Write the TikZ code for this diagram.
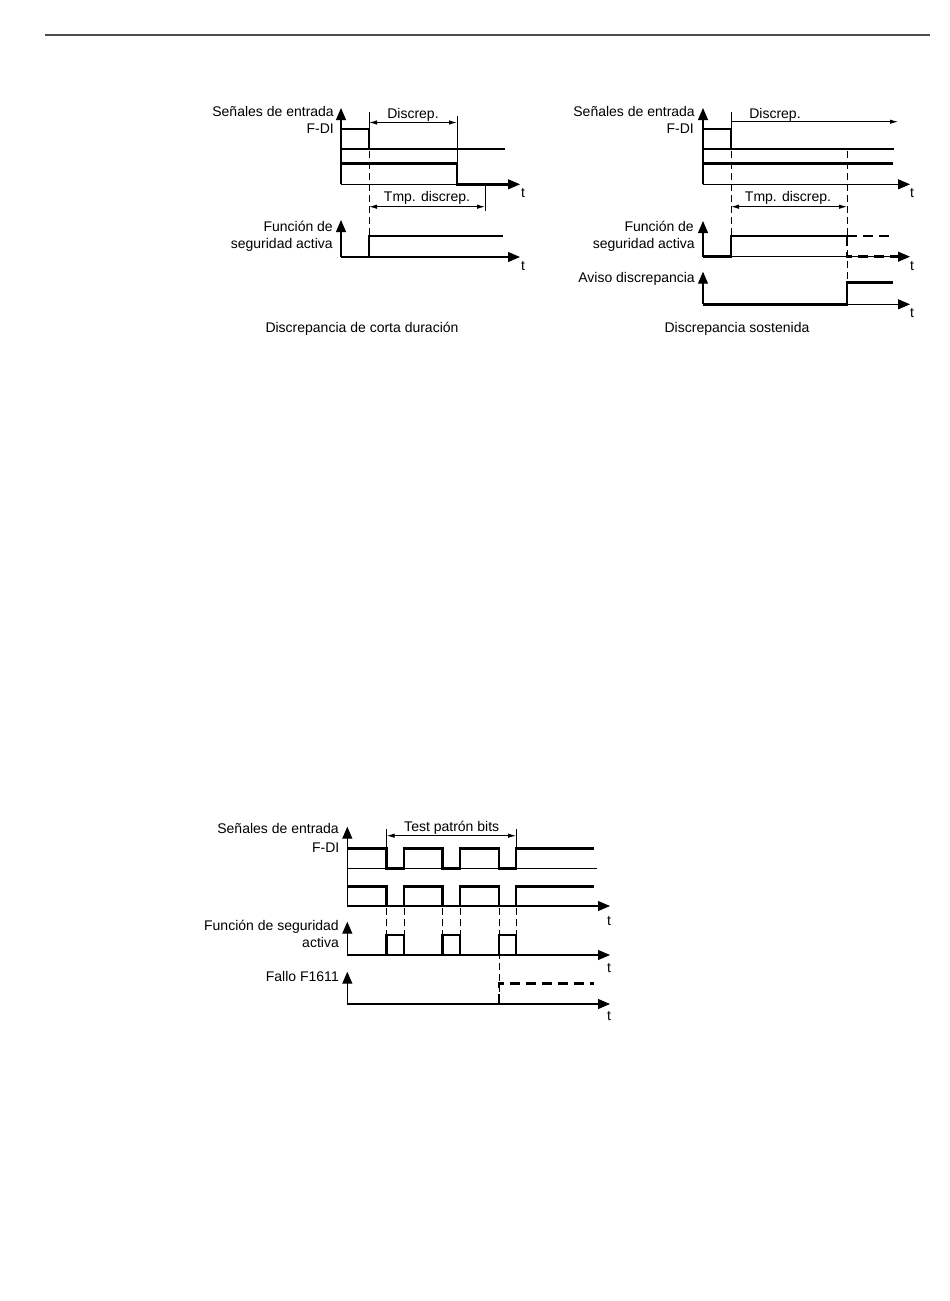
\documentclass[tikz,border=0pt]{standalone}
\usepackage{fontspec}
\setmainfont{Liberation Sans}
\usetikzlibrary{arrows.meta}
\tikzset{
  axisline/.style={line width=1.1pt},
  axisarr/.style={axisline,-{Triangle[length=12pt,width=10pt]}},
  sig/.style={line width=2.6pt},
  sigdash/.style={line width=2.6pt,dash pattern=on 10pt off 6pt},
  guide/.style={line width=0.9pt,dash pattern=on 7pt off 4pt},
  extline/.style={line width=0.9pt},
  dim/.style={line width=0.9pt,{Latex[length=8pt,width=4.5pt]}-{Latex[length=8pt,width=4.5pt]}},
  dimr/.style={line width=0.9pt,-{Latex[length=8pt,width=4.5pt]}},
  txt/.style={font=\fontsize{14}{16}\selectfont,inner sep=0pt},
  lbl/.style={txt,anchor=base east},
  ctr/.style={txt,anchor=base},
  tl/.style={txt,anchor=base}
}
\begin{document}
\begin{tikzpicture}[x=1pt,y=-1pt]
\useasboundingbox (0,0) rectangle (950,1301);
% top rule
\draw[line width=1.6pt,black!70] (45,34.7) -- (930,34.7);

% ================= top left =================
\node[lbl] (tlA) at (334,116.5) {Señales de entrada};
\node[lbl] (tlB) at (334,133.5) {F-DI};
\node[lbl] (tlC) at (333,231.5) {Función de};
\node[lbl] (tlD) at (333,248) {seguridad activa};
\draw[axisarr] (341,184.3) -- (341,108);
\draw[axisarr] (341,184.3) -- (520,184.3);
\draw[axisline] (341,149) -- (369,149);
\draw[sig] (341,129) -| (369,149) -- (505,149);
\draw[sig] (341,163.3) -| (457,184.3) -- (508,184.3);
\draw[extline] (369,112) -- (369,129);
\draw[guide] (369,151) -- (369,257);
\draw[extline] (457,116) -- (457,163.3);
\draw[dim] (369,122.5) -- (457,122.5);
\node[ctr] (tlDisc) at (413,118.5) {Discrep.};
\draw[extline] (485,184.3) -- (485,211);
\draw[dim] (369,206.7) -- (485,206.7);
\node[ctr] (tlTmp) at (427,201) {Tmp. discrep.};
\node[tl] (tlt1) at (523,197) {t};
\draw[axisarr] (341,257) -- (341,220);
\draw[axisarr] (341,257) -- (520,257);
\draw[sig] (341,257) -| (369,236) -- (503,236);
\node[tl] (tlt2) at (523,270.5) {t};
\node[ctr] (tlCap) at (362,332) {Discrepancia de corta duración};

% ================= top right =================
\node[lbl] (trA) at (695,116.5) {Señales de entrada};
\node[lbl] (trB) at (694,133.5) {F-DI};
\node[lbl] (trC) at (694,231.5) {Función de};
\node[lbl] (trD) at (695,248) {seguridad activa};
\node[lbl] (trE) at (695,282) {Aviso discrepancia};
\draw[axisarr] (703,184.3) -- (703,108);
\draw[axisarr] (703,184.3) -- (910,184.3);
\draw[axisline] (703,149) -- (731,149);
\draw[sig] (703,129) -| (731,149) -- (894,149);
\draw[sig] (703,163.3) -- (893,163.3);
\draw[extline] (731,112) -- (731,129);
\draw[guide] (731,151) -- (731,257);
\draw[guide] (847,151) -- (847,304);
\draw[dimr] (731,121.7) -- (898,121.7);
\node[ctr] (trDisc) at (775,118) {Discrep.};
\draw[dim] (731,206.7) -- (847,206.7);
\node[ctr] (trTmp) at (788,201) {Tmp. discrep.};
\node[tl] (trt1) at (912,197) {t};
\draw[axisarr] (703,256.7) -- (703,221);
\draw[axisarr] (703,256.7) -- (910,256.7);
\draw[sig] (703,256.7) -| (731,236) -- (847,236);
\draw[sigdash] (847,236) -- (894,236);
\draw[sigdash] (847,236) -- (847,256.7) -- (898,256.7);
\node[tl] (trt2) at (912,270.5) {t};
\draw[axisarr] (703,304.3) -- (703,271.7);
\draw[axisarr] (703,304.3) -- (910,304.3);
\draw[sig] (703,304.3) -| (847,282.5) -- (893,282.5);
\node[tl] (trt3) at (912,317) {t};
\node[ctr] (trCap) at (737,332) {Discrepancia sostenida};

% ================= bottom =================
\node[lbl] (bA) at (339,833.5) {Señales de entrada};
\node[lbl] (bB) at (339.5,852.5) {F-DI};
\node[lbl] (bC) at (339,930) {Función de seguridad};
\node[lbl] (bD) at (339,947.5) {activa};
\node[lbl] (bE) at (339,981.5) {Fallo F1611};
\draw[axisarr] (347.3,906) -- (347.3,826.7);
\draw[axisarr] (347.3,906) -- (610,906);
\draw[axisline] (347.3,868.5) -- (597,868.5);
\draw[sig] (347.3,848.5) -| (386.7,868.5) -| (404,848.5) -| (442.7,868.5) -| (460,848.5) -| (499,868.5) -| (516,848.5) -- (594,848.5);
\draw[sig] (347.3,886.7) -| (386.7,906) -| (404,886.7) -| (442.7,906) -| (460,886.7) -| (499,906) -| (516,886.7) -- (594,886.7);
\draw[extline] (386.7,829) -- (386.7,848.5);
\draw[extline] (516,829) -- (516,848.5);
\draw[dim] (386.7,835.7) -- (516,835.7);
\node[ctr] (bTest) at (451.7,831) {Test patrón bits};
\node[tl] (bt1) at (609,925) {t};
\foreach \gx in {386.7,404,442.7,460,516}{
  \draw[guide] (\gx,908) -- (\gx,935);
}
\draw[guide] (499,908) -- (499,1004);
\draw[axisarr] (347.3,955) -- (347.3,921.7);
\draw[axisarr] (347.3,955) -- (610,955);
\draw[sig] (347.3,955) -| (386.7,935) -| (404,955) -| (442.7,935) -| (460,955) -| (499,935) -| (516,955) -- (598,955);
\node[tl] (bt2) at (609,972) {t};
\draw[axisarr] (347.3,1004) -- (347.3,971.7);
\draw[axisarr] (347.3,1004) -- (610,1004);
\draw[sig] (347.3,1004) -- (499,1004);
\draw[sigdash] (499,1004) -- (499,983.3) -- (594,983.3);
\draw[sigdash] (499,1004) -- (598,1004);
\node[tl] (bt3) at (609,1020) {t};
\end{tikzpicture}
\end{document}
